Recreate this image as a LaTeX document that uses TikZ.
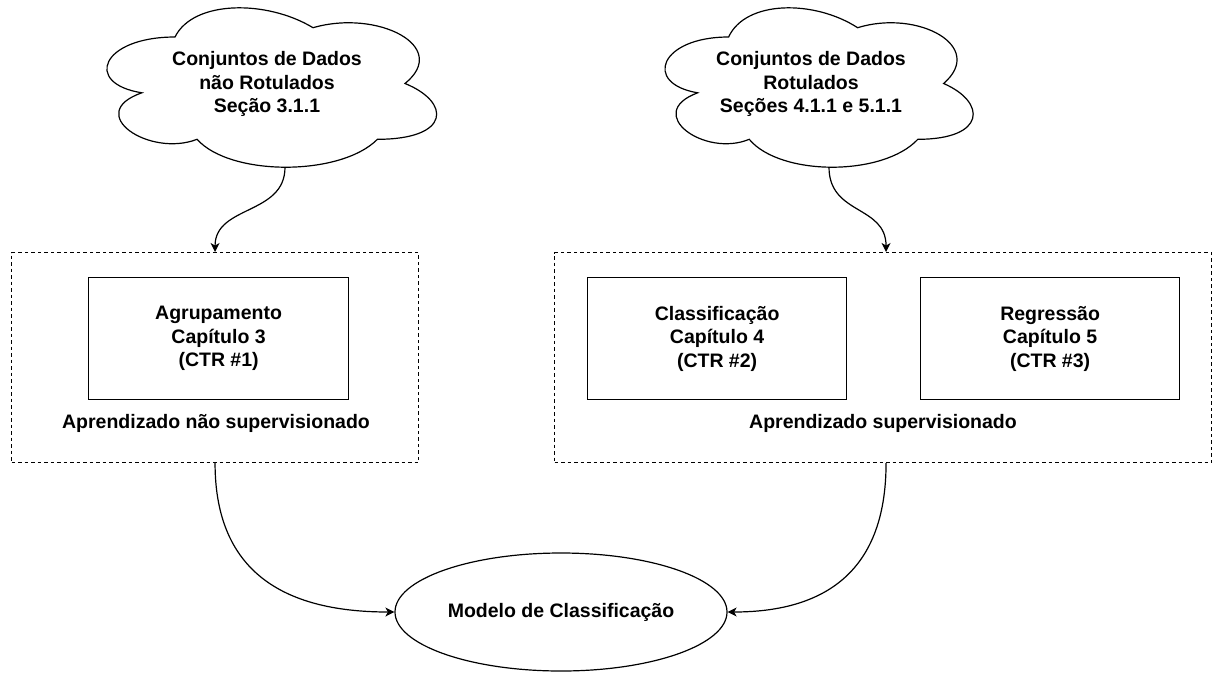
\documentclass[tikz,border=0pt]{standalone}
\usepackage{fontspec}
\setmainfont{Liberation Sans}
\usetikzlibrary{shapes.geometric,arrows.meta,calc}
\begin{document}
\begin{tikzpicture}[x=1pt,y=-1pt,
  lbl/.style={font=\fontsize{19.5}{23.4}\selectfont\bfseries, align=center, inner sep=0pt},
  solidbox/.style={draw, line width=1.2pt, minimum height=122pt, inner sep=0pt, anchor=north west, lbl},
  dashbox/.style={draw, line width=1.1pt, dash pattern=on 3.5pt off 3pt, minimum height=210pt, inner sep=0pt, anchor=north west},
  conn/.style={line width=1.2pt, -{Stealth[length=9pt,width=9pt,inset=2.5pt]}},
  cloudline/.style={draw, line width=1.2pt, fill=white},
]
\useasboundingbox (0,0) rectangle (1222,673);

% clouds
\begin{scope}[shift={(83,-9.5)}, x=368pt, y=-186pt]
\draw[cloudline] (0.25,0.25) .. controls (0.05,0.25) and (0,0.5) .. (0.16,0.55)
  .. controls (0,0.66) and (0.18,0.9) .. (0.31,0.8)
  .. controls (0.4,1) and (0.7,1) .. (0.8,0.8)
  .. controls (1,0.8) and (1,0.6) .. (0.875,0.5)
  .. controls (1,0.3) and (0.8,0.1) .. (0.625,0.2)
  .. controls (0.5,0.05) and (0.3,0.05) .. cycle;
\end{scope}
\begin{scope}[shift={(642.6,-9.5)}, x=344pt, y=-186pt]
\draw[cloudline] (0.25,0.25) .. controls (0.05,0.25) and (0,0.5) .. (0.16,0.55)
  .. controls (0,0.66) and (0.18,0.9) .. (0.31,0.8)
  .. controls (0.4,1) and (0.7,1) .. (0.8,0.8)
  .. controls (1,0.8) and (1,0.6) .. (0.875,0.5)
  .. controls (1,0.3) and (0.8,0.1) .. (0.625,0.2)
  .. controls (0.5,0.05) and (0.3,0.05) .. cycle;
\end{scope}
\node[lbl] (cl) at (267,84) {Conjuntos de Dados\\não Rotulados\\Seção 3.1.1};
\node[lbl] (cr) at (811,84) {Conjuntos de Dados\\Rotulados\\Seções 4.1.1 e 5.1.1};
\coordinate (c1out) at (285,167.2);
\coordinate (c2out) at (829,167.2);

% dashed containers
\node[dashbox, minimum width=407pt] (dl) at (11,252) {};
\node[dashbox, minimum width=657pt] (dr) at (554,252) {};

% inner boxes
\node[solidbox, minimum width=260pt] (agr) at (88,277) {Agrupamento\\Capítulo 3\\(CTR \#1)};
\node[solidbox, minimum width=259pt] (cla) at (587,277) {Classificação\\Capítulo 4\\(CTR \#2)};
\node[solidbox, minimum width=259pt] (reg) at (920,277) {Regressão\\Capítulo 5\\(CTR \#3)};

\node[lbl] (ans) at (216,423) {Aprendizado não supervisionado};
\node[lbl] (as) at (883,423) {Aprendizado supervisionado};

% ellipse
\node[draw, ellipse, line width=1.2pt, minimum width=332pt, minimum height=118pt, lbl] (ell) at (561,612) {Modelo de Classificação};

% connectors
\draw[conn] (c1out) .. controls +(0,48) and +(0,-47) .. (dl.north);
\draw[conn] (c2out) .. controls +(0,48) and +(0,-47) .. ([xshift=3pt]dr.north);
\draw[conn] (dl.south) .. controls +(0,113) and +(-105,0) .. (ell.west);
\draw[conn] ([xshift=3pt]dr.south) .. controls +(0,113) and +(92,0) .. (ell.east);
\end{tikzpicture}
\end{document}
